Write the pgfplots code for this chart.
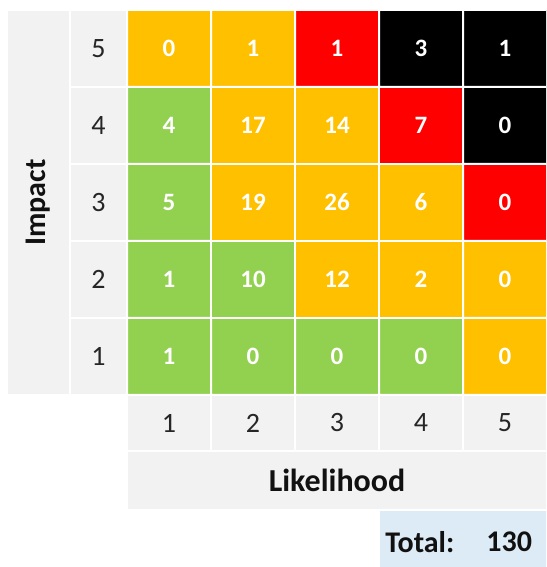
\documentclass[border=0pt]{standalone}
\usepackage{fontspec}
\setmainfont{Carlito}
\usepackage{pgfplots}
\usepackage{pgfplotstable}
\pgfplotsset{compat=1.18}
\definecolor{lgrey}{HTML}{F2F2F2}
\definecolor{lblue}{HTML}{DDEBF7}
\definecolor{lbl}{HTML}{262626}
\definecolor{bold}{HTML}{111111}

\pgfplotstableread{
L I cls n
1 1 0 1
2 1 0 0
3 1 0 0
4 1 0 0
5 1 1 0
1 2 0 1
2 2 0 10
3 2 1 12
4 2 1 2
5 2 1 0
1 3 0 5
2 3 1 19
3 3 1 26
4 3 1 6
5 3 2 0
1 4 0 4
2 4 1 17
3 4 1 14
4 4 2 7
5 4 3 0
1 5 1 0
2 5 1 1
3 5 2 1
4 5 3 3
5 5 3 1
}\riskdata

\begin{document}
\begin{tikzpicture}
\begin{axis}[
  width=273pt, height=283.5pt, scale only axis,
  xmin=-1.0119, xmax=5.4881, ymin=-1.7338, ymax=5.6299,
  axis lines=box, axis line style={draw=none},
  xtick=\empty, ytick=\empty,
  colormap={risk}{rgb255=(146,208,80) rgb255=(255,192,0) rgb255=(255,0,0) rgb255=(0,0,0)},
  colormap access=direct,
]
% grey label boxes
\filldraw[fill=lgrey, draw=white, line width=1pt] (axis cs:-0.9286,0.5) rectangle (axis cs:-0.1786,5.5);
\pgfplotsinvokeforeach{1,...,5}{
  \filldraw[fill=lgrey, draw=white, line width=1pt] (axis cs:-0.1786,#1-0.5) rectangle (axis cs:0.5,#1+0.5);
  \filldraw[fill=lgrey, draw=white, line width=1pt] (axis cs:#1-0.5,0.5) rectangle (axis cs:#1+0.5,-0.2273);
}
\filldraw[fill=lgrey, draw=white, line width=1pt] (axis cs:0.5,-0.2273) rectangle (axis cs:5.5,-0.9935);
\fill[lblue] (axis cs:3.512,-1.0065) rectangle (axis cs:5.6,-1.8);

% risk matrix
\addplot[matrix plot*, mesh/cols=5, point meta=explicit, draw=white, line width=1pt]
  table[x=L, y=I, meta=cls] {\riskdata};
\addplot[only marks, mark=none, point meta=explicit symbolic,
  nodes near coords, nodes near coords style={anchor=center, text=white, font=\fontsize{12.5}{15}\selectfont\bfseries}]
  table[x=L, y=I, meta=n] {\riskdata};

% labels
\pgfplotsinvokeforeach{1,...,5}{
  \node[text=lbl, font=\fontsize{14}{16}\selectfont] at (axis cs:0.1607,#1) {#1};
  \node[text=lbl, font=\fontsize{14}{16}\selectfont] at (axis cs:#1,0.1364) {#1};
}
\node[rotate=90, text=bold, font=\fontsize{15}{18}\selectfont\bfseries] at (axis cs:-0.5536,3) {Impact};
\node[text=bold, font=\fontsize{16}{18}\selectfont\bfseries] at (axis cs:3,-0.61) {Likelihood};
\node[anchor=west, inner sep=0pt, text=bold, font=\fontsize{15}{18}\selectfont\bfseries] at (axis cs:3.571,-1.409) {Total:};
\node[anchor=west, inner sep=0pt, text=bold, font=\fontsize{15}{18}\selectfont\bfseries] at (axis cs:4.774,-1.409) {130};
\end{axis}
\end{tikzpicture}
\end{document}
